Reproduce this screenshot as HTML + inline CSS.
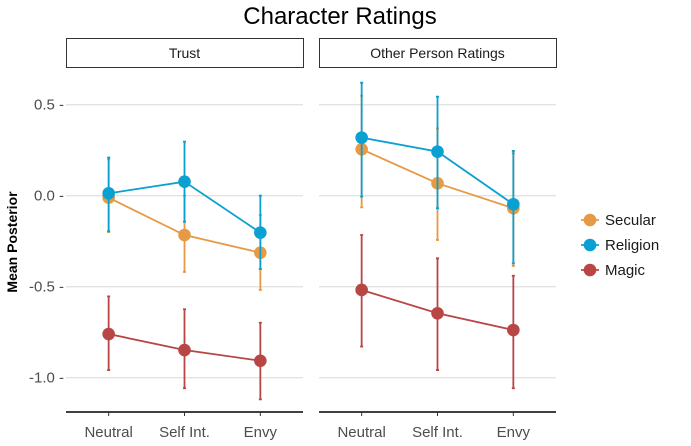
<!DOCTYPE html>
<html><head><meta charset="utf-8"><style>
body{margin:0;background:#fff;font-family:"Liberation Sans",sans-serif}
</style></head><body>
<svg id="chart" width="691" height="441" xmlns="http://www.w3.org/2000/svg" font-family="Liberation Sans, sans-serif"></svg>
<script>
const categories=["Neutral","Self Int.","Envy"];
const panels=["Trust","Other Person Ratings"];
const seriesNames=["Secular","Religion","Magic"];
const colors=["#E69A45","#0AA0D2","#B84645"];
const yTicks=[0.5,0.0,-0.5,-1.0];
const yTickLabels=["0.5 -","0.0 -","-0.5 -","-1.0 -"];
const trustSecular=[-0.011,-0.216,-0.313];
const trustSecularLo=[-0.2,-0.419,-0.518];
const trustSecularHi=[0.2,0.0,-0.106];
const trustReligion=[0.013,0.077,-0.203];
const trustReligionLo=[-0.195,-0.143,-0.403];
const trustReligionHi=[0.21,0.297,0.0];
const trustMagic=[-0.76,-0.848,-0.907];
const trustMagicLo=[-0.958,-1.058,-1.119];
const trustMagicHi=[-0.553,-0.624,-0.698];
const otherSecular=[0.255,0.068,-0.069];
const otherSecularLo=[-0.064,-0.243,-0.386];
const otherSecularHi=[0.549,0.37,0.233];
const otherReligion=[0.319,0.242,-0.047];
const otherReligionLo=[-0.005,-0.069,-0.372];
const otherReligionHi=[0.621,0.544,0.246];
const otherMagic=[-0.518,-0.646,-0.738];
const otherMagicLo=[-0.829,-0.958,-1.058];
const otherMagicHi=[-0.216,-0.344,-0.44];

const data=[
 [[trustSecular,trustSecularLo,trustSecularHi],[trustReligion,trustReligionLo,trustReligionHi],[trustMagic,trustMagicLo,trustMagicHi]],
 [[otherSecular,otherSecularLo,otherSecularHi],[otherReligion,otherReligionLo,otherReligionHi],[otherMagic,otherMagicLo,otherMagicHi]]
];
const svg=document.getElementById('chart');
const NS="http://www.w3.org/2000/svg";
function mk(t,a,p){const e=document.createElementNS(NS,t);for(const k in a)e.setAttribute(k,a[k]);(p||svg).appendChild(e);return e;}
const panelX=[66,319],panelW=237,plotTop=70,plotBottom=412;
function yScale(v){return 195.7-v*182;}
function xScale(p,i){return panelX[p]+panelW*(0.18+0.32*i);}

let t=mk('text',{x:340,y:24,'text-anchor':'middle','font-size':24,fill:'#000'});
t.textContent="Character Ratings";



panels.forEach((pn,p)=>{
  const g=mk('g',{});
  
  
  const s=mk('rect',{x:panelX[p]+0.5,y:38.5,width:panelW,height:29,fill:'#fff',stroke:'#333','stroke-width':1},g);
  
  
  const st=mk('text',{x:panelX[p]+panelW/2,y:58,'text-anchor':'middle','font-size':14,fill:'#1a1a1a'},g);
  st.textContent=pn;
  
  
  yTicks.forEach(v=>{
    const gl=mk('line',{x1:panelX[p],x2:panelX[p]+panelW,y1:yScale(v),y2:yScale(v),stroke:'#e3e3e3','stroke-width':1.3},g);
    
    
  });
  const ax=mk('line',{x1:panelX[p],x2:panelX[p]+panelW,y1:plotBottom,y2:plotBottom,stroke:'#000','stroke-width':1.6},g);
  
  
  categories.forEach((c,i)=>{
    mk('line',{x1:xScale(p,i),x2:xScale(p,i),y1:plotBottom,y2:plotBottom+4,stroke:'#333'},g);
    const tl=mk('text',{x:xScale(p,i),y:437,'text-anchor':'middle','font-size':15,fill:'#4d4d4d'},g);
    tl.textContent=c;
    
    
  });
  data[p].forEach((sd,si)=>{
    const col=colors[si];
    const m=sd[0],lo=sd[1],hi=sd[2];
    const pts=m.map((v,i)=>xScale(p,i)+','+yScale(v)).join(' ');
    const pl=mk('polyline',{points:pts,fill:'none',stroke:col,'stroke-width':1.8},g);
    
    
    m.forEach((v,i)=>{
      const xx=xScale(p,i);
      const eb=mk('path',{d:`M${xx-1.5},${yScale(hi[i])}h3M${xx},${yScale(hi[i])}V${yScale(lo[i])}M${xx-1.5},${yScale(lo[i])}h3`,stroke:col,'stroke-width':1.8,fill:'none'},g);
      
      
      const c=mk('circle',{cx:xx,cy:yScale(v),r:6.3,fill:col},g);
      
      
    });
  });
});
yTicks.forEach((v,i)=>{
  const tl=mk('text',{x:64,y:yScale(v)+5,'text-anchor':'end','font-size':15,fill:'#4d4d4d'});
  tl.textContent=yTickLabels[i];
  
  
});
const yt=mk('text',{x:0,y:0,transform:'translate(17,242) rotate(-90)','text-anchor':'middle','font-size':14,'font-weight':'bold',fill:'#000'});
yt.textContent="Mean Posterior";


seriesNames.forEach((n,i)=>{
  const g=mk('g',{});
  
  
  const ly=220+i*25;
  mk('line',{x1:581,x2:599,y1:ly,y2:ly,stroke:colors[i],'stroke-width':1.8},g);
  mk('circle',{cx:590,cy:ly,r:6.3,fill:colors[i]},g);
  const lt=mk('text',{x:605,y:ly+5,'font-size':15,fill:'#1a1a1a'},g);
  lt.textContent=n;
});
</script>
</body></html>
